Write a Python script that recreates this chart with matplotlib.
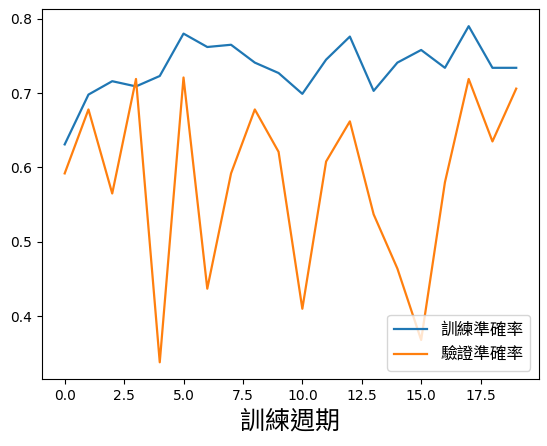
import matplotlib
matplotlib.use("Agg")
import matplotlib.pyplot as plt

plt.rcParams['font.family'] = ['DejaVu Sans', 'Noto Sans CJK TC']

epochs = list(range(20))
train_acc = [0.631, 0.698, 0.716, 0.709, 0.723, 0.780, 0.762, 0.765, 0.741, 0.727,
             0.699, 0.745, 0.776, 0.703, 0.741, 0.758, 0.734, 0.790, 0.734, 0.734]
val_acc = [0.592, 0.678, 0.565, 0.719, 0.338, 0.721, 0.437, 0.592, 0.678, 0.621,
           0.410, 0.608, 0.662, 0.537, 0.464, 0.368, 0.580, 0.719, 0.635, 0.706]

fig = plt.figure(figsize=(5.47, 4.46), dpi=100)
ax = fig.add_axes([0.077, 0.150, 0.908, 0.829])
ax.plot(epochs, train_acc, label='訓練準確率', linewidth=1.6)
ax.plot(epochs, val_acc, label='驗證準確率', linewidth=1.6)
ax.set_xlabel('訓練週期', fontsize=18, family=['Noto Sans CJK TC'])
ax.tick_params(labelsize=10)
ax.legend(loc='lower right', prop={'family': ['Noto Sans CJK TC'], 'size': 12})

fig.savefig("out.png", dpi=100)
